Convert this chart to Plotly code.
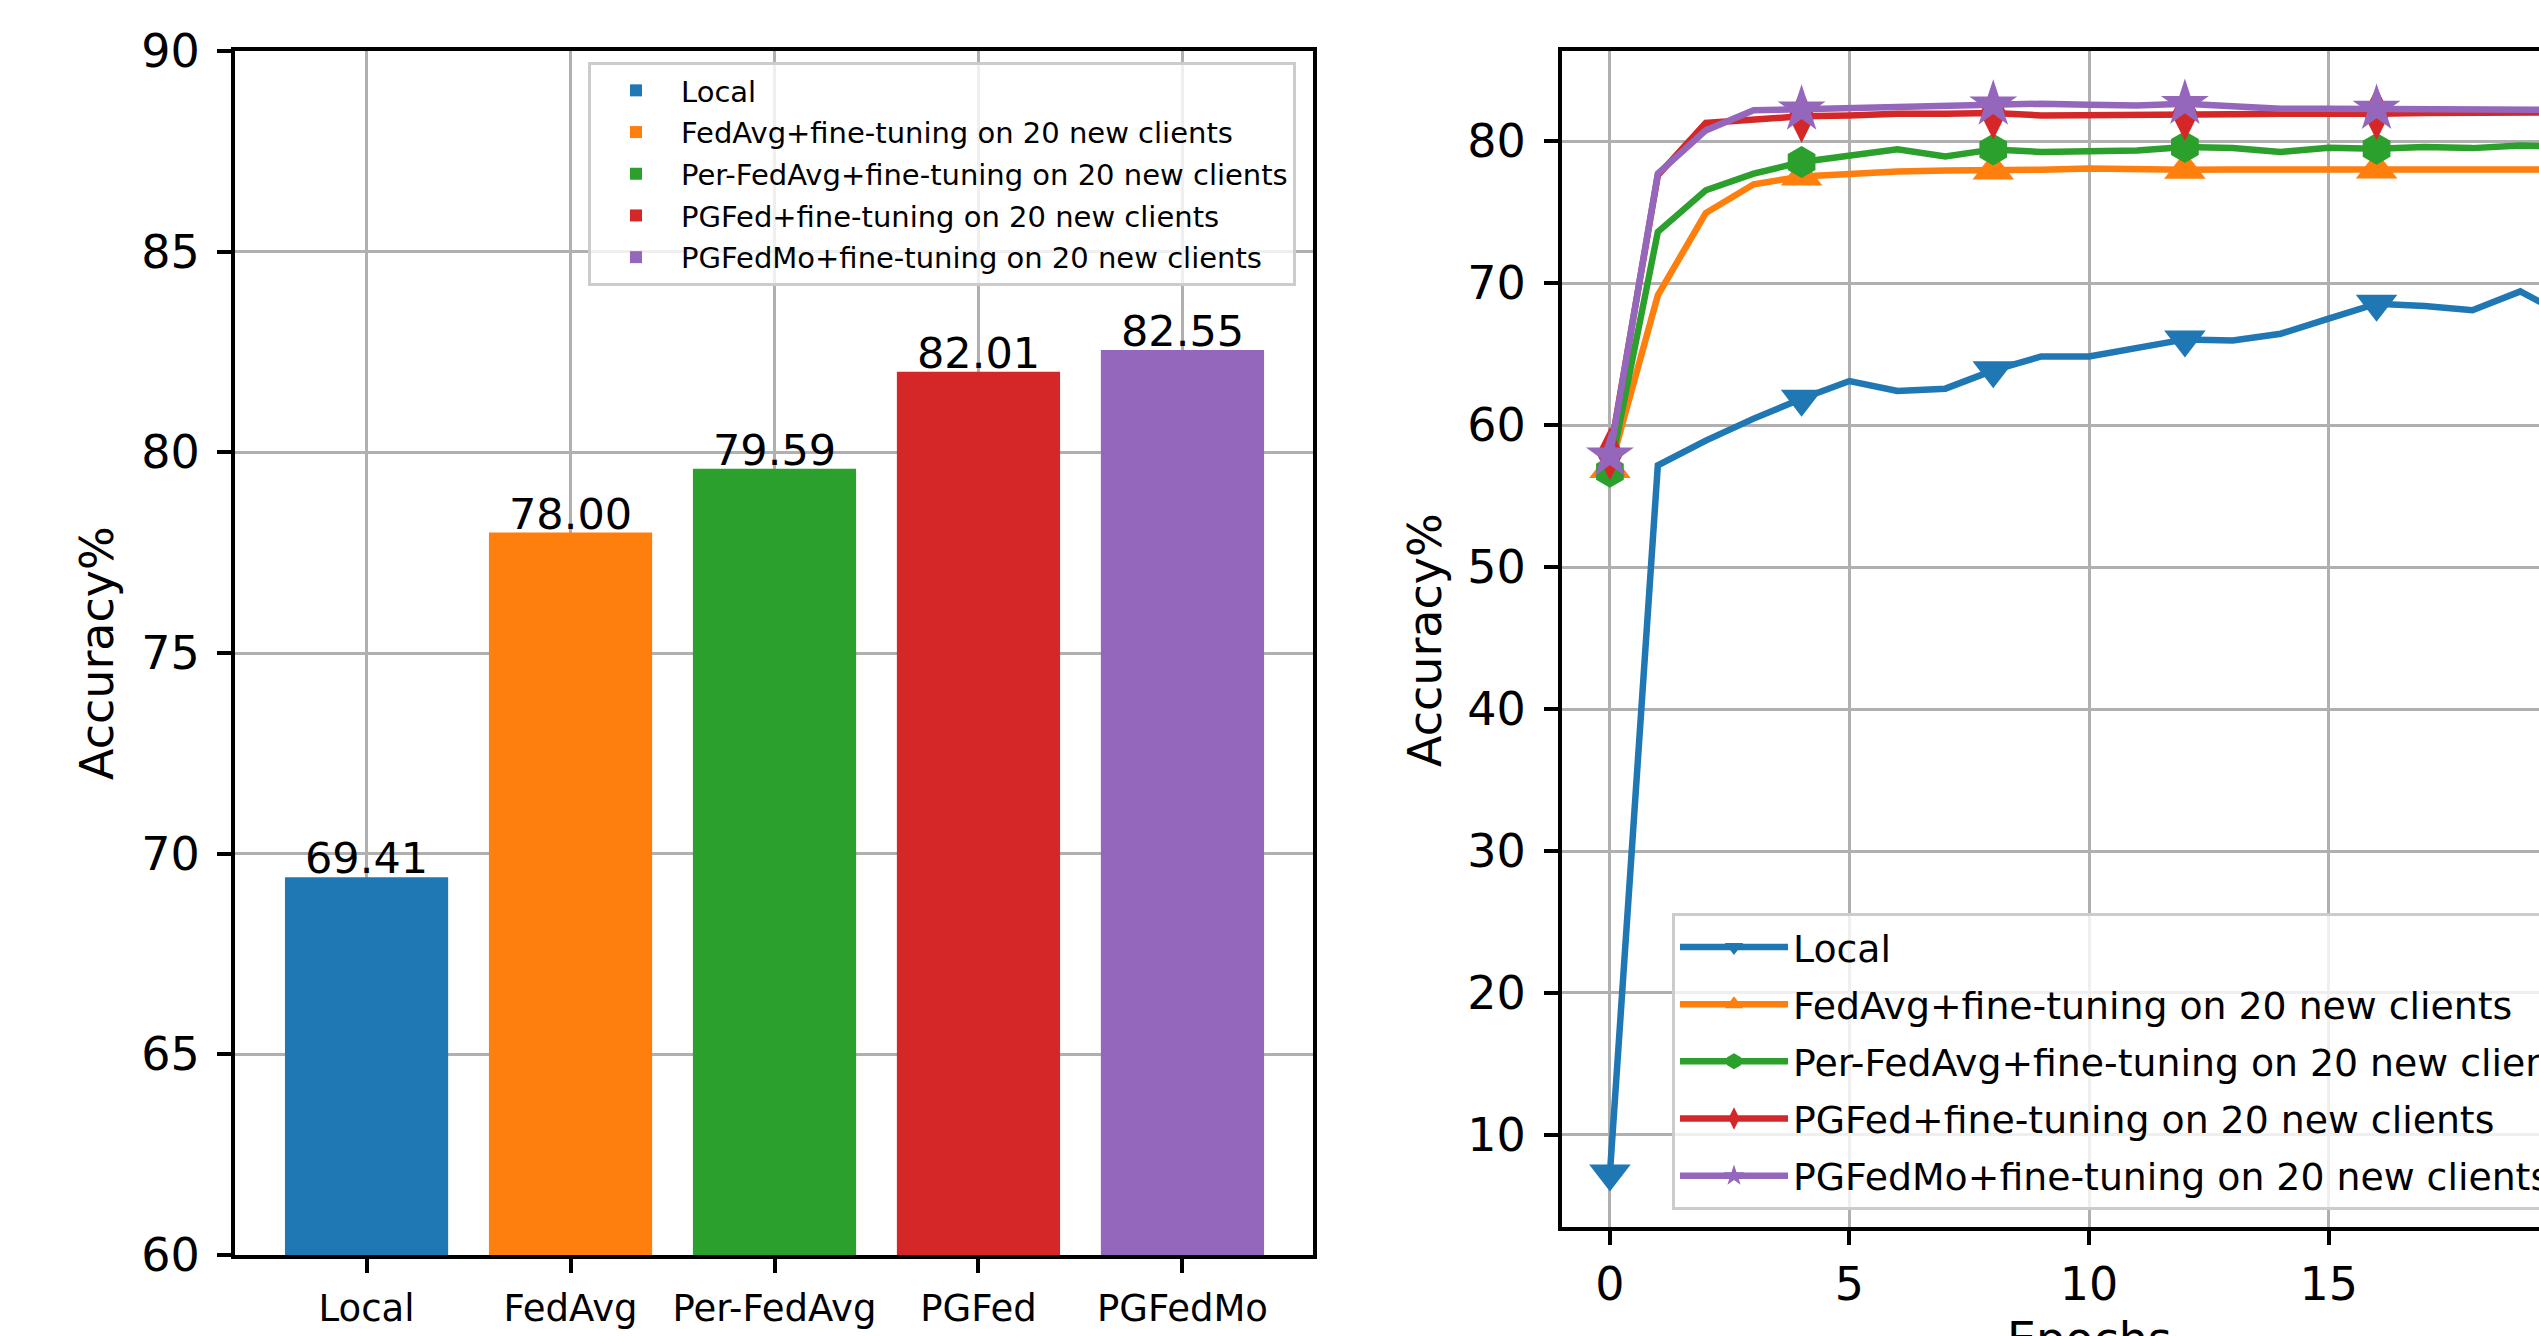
import plotly.graph_objects as go

W, H = 2539, 1336

# ---------------- data ----------------
bar_categories = ["Local", "FedAvg", "Per-FedAvg", "PGFed", "PGFedMo"]
bar_values = [69.41, 78.00, 79.59, 82.01, 82.55]
legend_names = [
    "Local",
    "FedAvg+fine-tuning on 20 new clients",
    "Per-FedAvg+fine-tuning on 20 new clients",
    "PGFed+fine-tuning on 20 new clients",
    "PGFedMo+fine-tuning on 20 new clients",
]
epochs = list(range(21))
acc_local = [7.28, 57.16, 58.9, 60.45, 61.85, 63.1, 62.4, 62.56, 63.85, 64.83, 64.83,
             65.38, 66.03, 65.96, 66.43, 67.49, 68.54, 68.38, 68.08, 69.41, 67.6]
acc_fedavg = [56.9, 69.13, 74.93, 76.95, 77.51, 77.7, 77.86, 77.93, 77.93, 77.98, 78.07,
              77.98, 77.98, 78.0, 78.0, 78.0, 78.0, 78.0, 78.0, 78.0, 78.0]
acc_perfedavg = [56.7, 73.6, 76.53, 77.7, 78.52, 78.99, 79.41, 78.92, 79.41, 79.23, 79.3,
                 79.34, 79.58, 79.5, 79.23, 79.53, 79.46, 79.58, 79.5, 79.69, 79.59]
acc_pgfed = [57.98, 77.58, 81.27, 81.46, 81.74, 81.8, 81.92, 81.92, 81.97, 81.8, 81.8,
             81.88, 81.88, 81.88, 81.92, 81.88, 81.92, 81.97, 81.97, 81.97, 82.01]
acc_pgfedmo = [57.86, 77.7, 80.75, 82.16, 82.23, 82.32, 82.39, 82.44, 82.58, 82.63, 82.56,
               82.51, 82.63, 82.46, 82.28, 82.28, 82.28, 82.28, 82.2, 82.2, 82.2]
mark_every = 4

colors = ["#1f77b4", "#ff7f0e", "#2ca02c", "#d62728", "#9467bd"]
symbols = ["triangle-down", "triangle-up", "hexagon", "diamond-tall", "star"]
marker_sizes = [36, 36, 32, 38, 36]
series = [acc_local, acc_fedavg, acc_perfedavg, acc_pgfed, acc_pgfedmo]

FONT = "DejaVu Sans"
fig = go.Figure()

# ---------------- bar chart ----------------
for i, (name, val, col) in enumerate(zip(legend_names, bar_values, colors)):
    fig.add_trace(go.Bar(
        x=[i], y=[val], width=0.8, name=name, marker_color=col,
        marker_line_width=0, legendgroup=f"b{i}",
        xaxis="x", yaxis="y", legend="legend",
    ))

bar_labels = [
    dict(x=i, y=val, xref="x", yref="y", text=f"{val:.2f}", showarrow=False,
         xanchor="center", yanchor="bottom", yshift=-8, font=dict(size=43))
    for i, val in enumerate(bar_values)
]

# ---------------- line chart ----------------
for k, (ys, name, col, sym, ms) in enumerate(zip(series, legend_names, colors, symbols, marker_sizes)):
    fig.add_trace(go.Scatter(
        x=epochs, y=ys, mode="lines", line=dict(color=col, width=6.5),
        showlegend=False, xaxis="x2", yaxis="y2", hoverinfo="skip",
    ))
    fig.add_trace(go.Scatter(
        x=epochs[::mark_every], y=ys[::mark_every], mode="markers",
        marker=dict(symbol=sym, size=ms, color=col, line=dict(width=0)),
        showlegend=False, xaxis="x2", yaxis="y2", cliponaxis=False,
    ))
    fig.add_trace(go.Scatter(
        x=[None], y=[None], mode="lines+markers", name=name,
        line=dict(color=col, width=6.5), legendgroup=f"l{k}",
        marker=dict(symbol=sym, size=ms, color=col),
        xaxis="x2", yaxis="y2", legend="legend2",
    ))

axis_common = dict(
    showgrid=True, gridcolor="#b0b0b0", gridwidth=3,
    showline=True, linecolor="black", linewidth=4,
    ticks="outside", ticklen=14, tickwidth=4, tickcolor="black",
    zeroline=False, automargin=False,
)

fig.update_layout(
    width=W, height=H,
    margin=dict(l=0, r=0, t=0, b=0, autoexpand=False),
    paper_bgcolor="white", plot_bgcolor="white",
    font=dict(family=FONT, color="black"),
    xaxis=dict(domain=[235 / W, 1313 / W], range=[-0.645, 4.64],
               tickvals=list(range(len(bar_categories))), ticktext=bar_categories,
               tickfont=dict(size=37), mirror=True, anchor="y",
               ticklabelstandoff=4, **axis_common),
    yaxis=dict(domain=[1 - 1255 / H, 1 - 51 / H], range=[60, 90], dtick=5, tick0=60,
               tickfont=dict(size=46), mirror=True, anchor="x",
               ticklabelstandoff=8, **axis_common),
    xaxis2=dict(domain=[1562 / W, 1.0], range=[-1.0, 19.39], dtick=5, tick0=0,
                tickfont=dict(size=46), mirror=True, anchor="y2",
                ticklabelstandoff=0, **axis_common),
    yaxis2=dict(domain=[1 - 1227 / H, 1 - 51 / H], range=[3.52, 86.34], dtick=10, tick0=0,
                tickfont=dict(size=46), mirror=False, anchor="x2",
                ticklabelstandoff=9, **axis_common),
    legend=dict(x=588 / W, y=1 - 62 / H, xanchor="left", yanchor="top",
                font=dict(size=29, family=FONT), itemwidth=80,
                traceorder="grouped", tracegroupgap=1,
                bgcolor="rgba(255,255,255,0.8)", bordercolor="#cccccc", borderwidth=3),
    legend2=dict(x=1672 / W, y=1 - 913 / H, xanchor="left", yanchor="top",
                 font=dict(size=37.8, family=FONT), itemwidth=108,
                 traceorder="grouped", tracegroupgap=5,
                 bgcolor="rgba(255,255,255,0.8)", bordercolor="#cccccc", borderwidth=3),
    annotations=bar_labels + [
        dict(text="Accuracy%", x=97 / W, y=1 - 653 / H, xref="paper", yref="paper",
             textangle=-90, showarrow=False, xanchor="center", yanchor="middle",
             font=dict(size=46)),
        dict(text="Accuracy%", x=1425 / W, y=1 - 640 / H, xref="paper", yref="paper",
             textangle=-90, showarrow=False, xanchor="center", yanchor="middle",
             font=dict(size=46)),
        dict(text="Epochs", x=10, y=1 - 1310 / H, xref="x2", yref="paper",
             showarrow=False, xanchor="center", yanchor="top", font=dict(size=46)),
    ],
)

fig.write_html("out.html", config={"displayModeBar": False},
               post_script="document.body.style.margin='0px';")
